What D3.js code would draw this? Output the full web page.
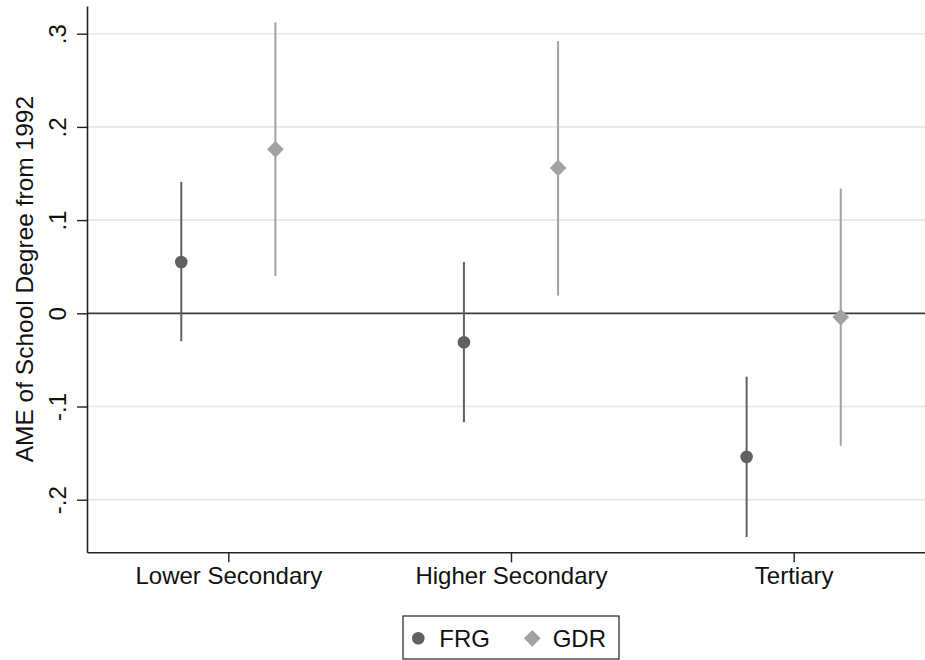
<!DOCTYPE html>
<html>
<head>
<meta charset="utf-8">
<script src="https://cdn.jsdelivr.net/npm/d3@7"></script>
<style>
  html, body { margin: 0; padding: 0; background: #fff; }
  svg { display: block; font-family: "Liberation Sans", Arial, sans-serif; }
</style>
</head>
<body>
<svg id="chart" width="925" height="660"></svg>
<script>
// ---- data ----
const categories = ["Lower Secondary", "Higher Secondary", "Tertiary"];
const seriesNames = ["FRG", "GDR"];
const frgEst = [0.055, -0.031, -0.154];
const frgLo  = [-0.030, -0.117, -0.240];
const frgHi  = [0.141, 0.055, -0.068];
const gdrEst = [0.176, 0.156, -0.004];
const gdrLo  = [0.040, 0.019, -0.142];
const gdrHi  = [0.312, 0.292, 0.134];
const yTicks = [-0.2, -0.1, 0, 0.1, 0.2, 0.3];
const yTickLabels = ["-.2", "-.1", "0", ".1", ".2", ".3"];
const yTitle = "AME of School Degree from 1992";

// ---- layout ----
const W = 925, H = 660;
const mLeft = 87, mRight = 935, mTop = 6, mBottom = 552.3;
const FS = 24;
const colFRG = "#606060", colGDR = "#a2a2a2";
const diamondSize = 140;

const svg = d3.select("#chart");

const y = d3.scaleLinear().domain([-0.2564, 0.3297]).range([mBottom, mTop]);
const x = d3.scaleLinear().domain([0.5, 3.5]).range([mLeft, mRight]);
const offset = 0.1665;

// gridlines
svg.append("g").selectAll("line")
  .data(yTicks.filter(d => d !== 0))
  .join("line")
  .attr("x1", mLeft).attr("x2", W)
  .attr("y1", d => y(d)).attr("y2", d => y(d))
  .attr("stroke", "#e6e6e6").attr("stroke-width", 1.6);

// zero reference line
svg.append("line")
  .attr("x1", mLeft).attr("x2", W)
  .attr("y1", y(0)).attr("y2", y(0))
  .attr("stroke", "#3c3c3c").attr("stroke-width", 1.8);

// series data
const series = [
  { name: seriesNames[0], est: frgEst, lo: frgLo, hi: frgHi, dx: -offset, color: colFRG, shape: "circle" },
  { name: seriesNames[1], est: gdrEst, lo: gdrLo, hi: gdrHi, dx: offset, color: colGDR, shape: "diamond" }
];

series.forEach(s => {
  const g = svg.append("g");
  const pts = categories.map((c, i) => ({ xv: i + 1 + s.dx, est: s.est[i], lo: s.lo[i], hi: s.hi[i] }));
  g.selectAll("line").data(pts).join("line")
    .attr("x1", d => x(d.xv)).attr("x2", d => x(d.xv))
    .attr("y1", d => y(d.lo)).attr("y2", d => y(d.hi))
    .attr("stroke", s.color).attr("stroke-width", 2);
  if (s.shape === "circle") {
    g.selectAll("circle").data(pts).join("circle")
      .attr("cx", d => x(d.xv)).attr("cy", d => y(d.est))
      .attr("r", 6.3).attr("fill", s.color);
  } else {
    const sym = d3.symbol().type(d3.symbolSquare).size(diamondSize);
    g.selectAll("path").data(pts).join("path")
      .attr("d", sym)
      .attr("transform", d => `translate(${x(d.xv)},${y(d.est)}) rotate(45)`)
      .attr("fill", s.color);
  }
});

// y axis
const yAxis = svg.append("g")
  .attr("transform", `translate(${mLeft},0)`)
  .call(d3.axisLeft(y).tickValues(yTicks)
    .tickFormat((d, i) => yTickLabels[i]).tickSize(10).tickSizeOuter(0));
yAxis.select(".domain").attr("stroke", "#222").attr("stroke-width", 1.6);
yAxis.selectAll(".tick line").attr("stroke", "#222").attr("stroke-width", 1.4);
yAxis.selectAll(".tick text")
  .attr("x", 0).attr("dy", 0)
  .attr("transform", "translate(-21,0) rotate(-90)")
  .attr("text-anchor", "middle")
  .attr("font-size", FS).attr("fill", "#111")
  .style("font-family", "'Liberation Sans', Arial, sans-serif");

// x axis
const xAxis = svg.append("g")
  .attr("transform", `translate(0,${mBottom})`)
  .call(d3.axisBottom(x).tickValues([1, 2, 3])
    .tickFormat((d, i) => categories[i]).tickSize(10).tickSizeOuter(0));
xAxis.select(".domain").attr("stroke", "#222").attr("stroke-width", 1.6);
xAxis.selectAll(".tick line").attr("stroke", "#222").attr("stroke-width", 1.4);
xAxis.selectAll(".tick text")
  .attr("y", 31.5).attr("dy", 0)
  .attr("font-size", FS).attr("fill", "#111")
  .style("font-family", "'Liberation Sans', Arial, sans-serif");

// y title
svg.append("text")
  .attr("transform", `translate(33,${(mTop + mBottom) / 2}) rotate(-90)`)
  .attr("text-anchor", "middle")
  .attr("font-size", 24.5).attr("fill", "#111")
  .text(yTitle);

// legend
const lg = svg.append("g");
lg.append("rect")
  .attr("x", 403).attr("y", 616).attr("width", 216).attr("height", 43)
  .attr("fill", "#fff").attr("stroke", "#222").attr("stroke-width", 1.2);
lg.append("circle").attr("cx", 418.3).attr("cy", 638.3).attr("r", 6.3).attr("fill", colFRG);
lg.append("text").attr("x", 439.3).attr("y", 646.7).attr("font-size", FS).attr("fill", "#111").text(seriesNames[0]);
lg.append("path")
  .attr("d", d3.symbol().type(d3.symbolSquare).size(diamondSize))
  .attr("transform", "translate(532.3,638.3) rotate(45)")
  .attr("fill", colGDR);
lg.append("text").attr("x", 552.7).attr("y", 646.7).attr("font-size", FS).attr("fill", "#111").text(seriesNames[1]);
</script>
</body>
</html>
